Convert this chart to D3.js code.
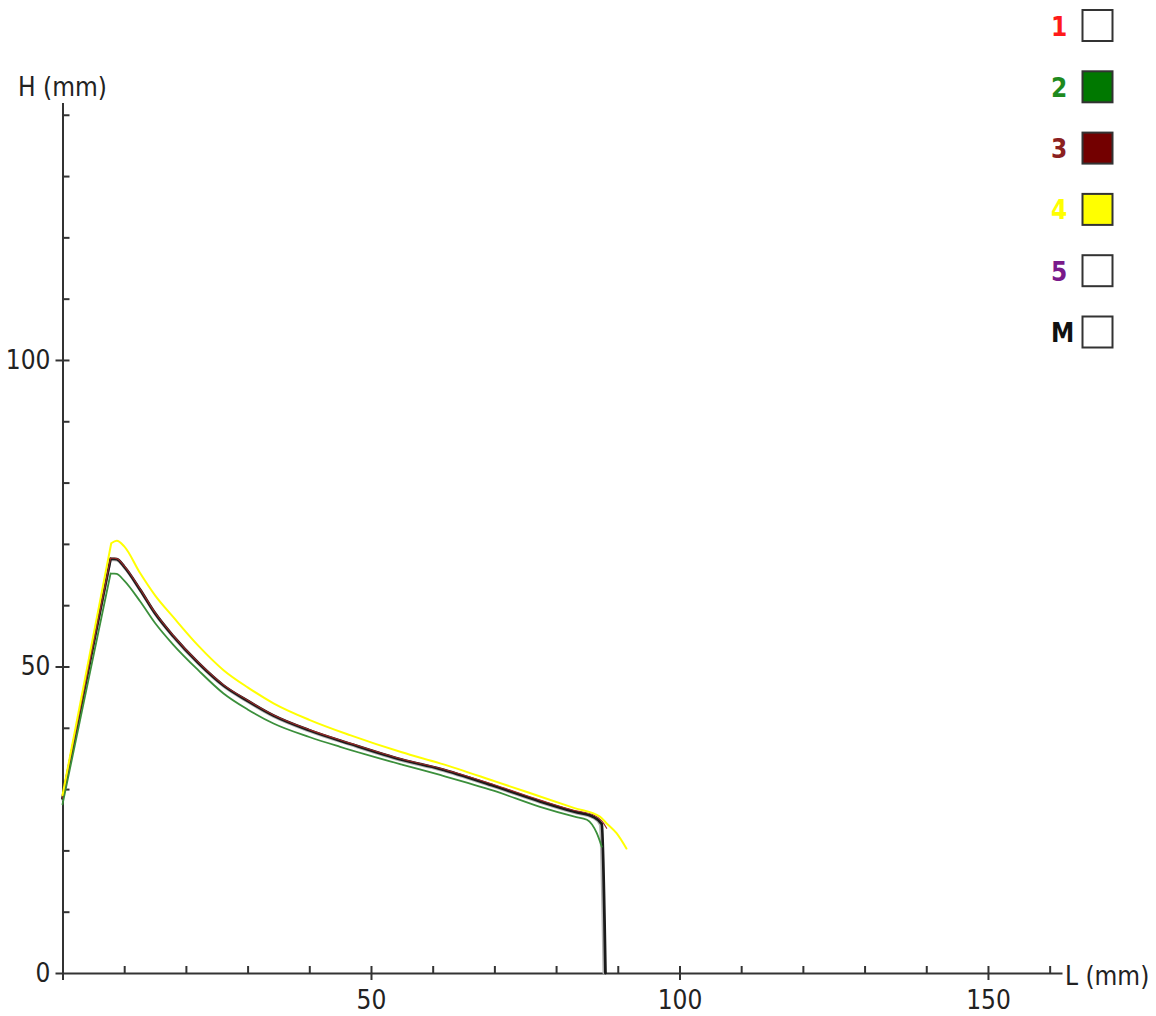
<!DOCTYPE html>
<html>
<head>
<meta charset="utf-8">
<script src="https://cdn.jsdelivr.net/npm/d3@7"></script>
<style>
  body { margin: 0; background: #fff; }
  svg { display: block; }
  text { font-family: 'DejaVu Sans Condensed', 'DejaVu Sans', sans-serif; font-stretch: condensed; }
</style>
</head>
<body>
<svg id="chart" width="1156" height="1016"></svg>
<script>
// profile readings, L (mm) and H (mm) per series; index 1 is the corner at the top of the rise
const mL = [0, 7.8, 8.8, 10, 12.6, 15, 18, 22, 26.1, 30, 34.2, 40, 46.6, 55, 61.2, 70, 77.4, 83, 86, 87.4, 88.0];
const mH = [28.5, 67.6, 67.5, 66.3, 62.5, 58.7, 54.9, 50.6, 46.9, 44.4, 42.0, 39.6, 37.4, 34.8, 33.3, 30.5, 28.0, 26.3, 25.5, 24.3, 0];

const s3L = [0, 7.8, 8.8, 10, 12.6, 15, 18, 22, 26.1, 30, 34.2, 40, 46.6, 55, 61.2, 70, 77.4, 83, 86, 87.4, 88.2];
const s3H = [28.5, 67.7, 67.6, 66.4, 62.6, 58.8, 55.0, 50.7, 47.0, 44.5, 42.1, 39.7, 37.5, 34.9, 33.4, 30.7, 28.2, 26.5, 25.8, 24.8, 23.6];

const s2L = [0, 7.8, 8.8, 10, 12.6, 15, 18, 22, 26.1, 30, 34.2, 40, 45, 55, 61.2, 70, 77.4, 83, 85, 86.6, 87.4];
const s2H = [27.5, 65.2, 65.1, 64.0, 60.6, 57.1, 53.5, 49.4, 45.6, 43.0, 40.7, 38.5, 36.9, 34.0, 32.3, 29.7, 27.1, 25.5, 25.0, 22.8, 20.6];

const s4L = [0, 7.9, 8.8, 10, 12.6, 15, 18, 22, 26.1, 30, 34.2, 40, 46.6, 55, 61.2, 70, 77.4, 83, 87.1, 88.2, 89.8, 91.4];
const s4H = [29, 70.1, 70.5, 69.6, 65.2, 61.6, 58.0, 53.4, 49.4, 46.6, 44.0, 41.3, 38.8, 36.0, 34.2, 31.3, 28.8, 26.9, 25.5, 24.4, 22.8, 20.3];

const greyL = [0, 7.8, 8.8, 10, 12.6, 15, 18, 22, 26.1, 30, 34.2, 40, 46.6, 55, 61.2, 70, 77.4, 83, 86, 87.1, 87.7];
const greyH = [28.3, 67.4, 67.3, 66.1, 62.3, 58.5, 54.7, 50.4, 46.7, 44.2, 41.8, 39.4, 37.2, 34.6, 33.1, 30.3, 27.8, 26.1, 25.3, 24.2, 0];

const legendLabels = ['1', '2', '3', '4', '5', 'M'];
const legendText = ['#ff1a1a', '#1e8a1e', '#8b2020', '#ffff00', '#7a1a8a', '#111'];
const legendFill = ['#fff', '#007800', '#730000', '#ffff00', '#fff', '#fff'];

const xMinor = [10, 20, 30, 40, 50, 60, 70, 80, 90, 100, 110, 120, 130, 140, 150, 160];
const xMajor = [0, 50, 100, 150];
const yMinor = [10, 20, 30, 40, 50, 60, 70, 80, 90, 100, 110, 120, 130, 140];
const yMajor = [0, 50, 100];

const svg = d3.select('#chart');
const x = d3.scaleLinear().domain([0, 162]).range([62.5, 1062]);
const y = d3.scaleLinear().domain([0, 142]).range([973, 102.5]);

const axisColor = '#333';
const fontSize = 26;

// axes
function styleAxis(g) {
  g.select('.domain').attr('stroke', axisColor).attr('stroke-width', 2);
  g.selectAll('.tick line').attr('stroke', axisColor).attr('stroke-width', 2);
  g.selectAll('.tick text').attr('fill', '#222').style('font-size', fontSize + 'px')
    .attr('font-family', null);
}

svg.append('g').attr('transform', `translate(0,${y(0)})`)
  .call(d3.axisBottom(x).tickValues(xMinor).tickSizeInner(-7).tickSizeOuter(0).tickFormat(''))
  .call(styleAxis);
svg.append('g').attr('transform', `translate(0,${y(0)})`)
  .call(d3.axisBottom(x).tickValues(xMajor).tickSizeInner(7).tickSizeOuter(0).tickPadding(11)
    .tickFormat(d => d === 0 ? '' : d))
  .call(styleAxis)
  .call(g => g.select('.domain').remove());

svg.append('g').attr('transform', `translate(${x(0)},0)`)
  .call(d3.axisLeft(y).tickValues(yMinor).tickSizeInner(-7).tickSizeOuter(0).tickFormat(''))
  .call(styleAxis);
svg.append('g').attr('transform', `translate(${x(0)},0)`)
  .call(d3.axisLeft(y).tickValues(yMajor).tickSizeInner(7).tickSizeOuter(0).tickPadding(5))
  .call(styleAxis)
  .call(g => g.select('.domain').remove());

// axis titles
svg.append('text').attr('x', 18).attr('y', 96).attr('fill', '#222')
  .style('font-size', fontSize + 'px').text('H (mm)');
svg.append('text').attr('x', 1065).attr('y', 985).attr('fill', '#222')
  .style('font-size', fontSize + 'px').text('L (mm)');

// curves: straight rise up to the corner, smooth decay after it
const riseLine = d3.line().x(d => x(d[0])).y(d => y(d[1]));
const decayLine = d3.line().x(d => x(d[0])).y(d => y(d[1])).curve(d3.curveMonotoneX);
const pairs = (a, b) => a.map((v, i) => [v, b[i]]);
const profile = pts => riseLine(pts.slice(0, 2)) + decayLine(pts.slice(1));

const series = [
  { pts: pairs(greyL, greyH), color: '#b4b4b4', w: 2.2 },
  { pts: pairs(mL, mH), color: '#1a1a1a', w: 2.8 },
  { pts: pairs(s3L, s3H), color: '#9b2a2a', w: 1.1 },
  { pts: pairs(s2L, s2H), color: '#3b8f3b', w: 1.8 },
  { pts: pairs(s4L, s4H), color: '#ffff00', w: 2 }
];

svg.append('g').selectAll('path')
  .data(series)
  .join('path')
  .attr('d', d => profile(d.pts))
  .attr('fill', 'none')
  .attr('stroke', d => d.color)
  .attr('stroke-width', d => d.w)
  .attr('stroke-linejoin', 'round')
  .attr('stroke-linecap', 'round');

// legend
const legend = svg.append('g');
const rows = legend.selectAll('g')
  .data(legendLabels)
  .join('g')
  .attr('transform', (d, i) => `translate(0,${25.5 + i * 61.3})`);

rows.append('text')
  .attr('x', 1051)
  .attr('y', 10)
  .attr('fill', (d, i) => legendText[i])
  .style('font-size', fontSize + 'px')
  .style('font-weight', 'bold')
  .text(d => d);

rows.append('rect')
  .attr('x', 1082.5)
  .attr('y', -15.5)
  .attr('width', 30)
  .attr('height', 31)
  .attr('fill', (d, i) => legendFill[i])
  .attr('stroke', '#333')
  .attr('stroke-width', 2);
</script>
</body>
</html>
